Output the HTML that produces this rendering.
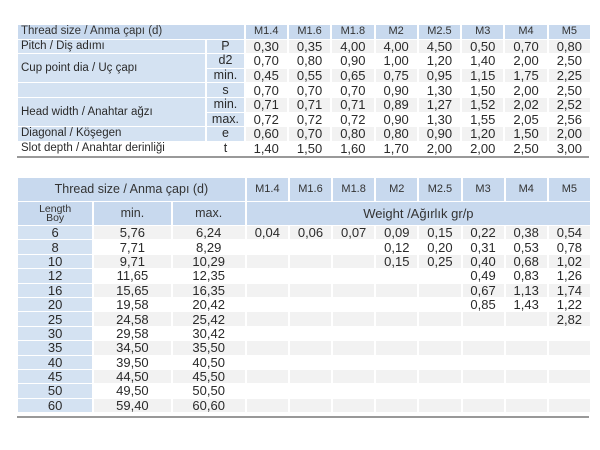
<!DOCTYPE html>
<html><head><meta charset="utf-8"><style>
body{margin:0;width:600px;height:450px;background:#fff;font-family:"Liberation Sans",sans-serif;color:#2a2a2a;position:relative;overflow:hidden}
table{position:absolute;left:16px;border-collapse:separate;border-spacing:2px 1px;table-layout:fixed}
td{padding:0;overflow:hidden;white-space:nowrap;line-height:13px}
.h{background:#c8d9ee;font-size:11px;text-align:center;color:#333}
td.b{background:#d4e2f2}
.g td.v{background:#f2f2f2}
.g td.b{background:#d4e2f2}
.v{text-align:center;font-size:13px}
.l{font-size:11.5px;padding-left:3px}
.s{text-align:center;font-size:12.5px}
#t1{top:24px;width:576px}
#t1 td{height:13.6px}
#t2{top:177px;width:576px}
#t2 td{height:13.4px}
.line{position:absolute;left:17px;width:572px;height:2px;background:#999}
</style></head><body>
<table id="t1">
<colgroup><col style="width:186px"><col style="width:36px"><col span="8" style="width:41px"></colgroup>
<tr><td class="h l" colspan="2" style="text-align:left">Thread size / Anma çapı (d)</td><td class="h">M1.4</td><td class="h">M1.6</td><td class="h">M1.8</td><td class="h">M2</td><td class="h">M2.5</td><td class="h">M3</td><td class="h">M4</td><td class="h">M5</td></tr>
<tr class="g"><td class="b l">Pitch / Diş adımı</td><td class="b s">P</td><td class="v">0,30</td><td class="v">0,35</td><td class="v">4,00</td><td class="v">4,00</td><td class="v">4,50</td><td class="v">0,50</td><td class="v">0,70</td><td class="v">0,80</td></tr>
<tr><td class="b l" rowspan="2">Cup point dia / Uç çapı</td><td class="b s">d2</td><td class="v">0,70</td><td class="v">0,80</td><td class="v">0,90</td><td class="v">1,00</td><td class="v">1,20</td><td class="v">1,40</td><td class="v">2,00</td><td class="v">2,50</td></tr>
<tr class="g"><td class="b s">min.</td><td class="v">0,45</td><td class="v">0,55</td><td class="v">0,65</td><td class="v">0,75</td><td class="v">0,95</td><td class="v">1,15</td><td class="v">1,75</td><td class="v">2,25</td></tr>
<tr><td class="b l"></td><td class="b s">s</td><td class="v">0,70</td><td class="v">0,70</td><td class="v">0,70</td><td class="v">0,90</td><td class="v">1,30</td><td class="v">1,50</td><td class="v">2,00</td><td class="v">2,50</td></tr>
<tr class="g"><td class="b l" rowspan="2">Head width / Anahtar ağzı</td><td class="b s">min.</td><td class="v">0,71</td><td class="v">0,71</td><td class="v">0,71</td><td class="v">0,89</td><td class="v">1,27</td><td class="v">1,52</td><td class="v">2,02</td><td class="v">2,52</td></tr>
<tr><td class="b s">max.</td><td class="v">0,72</td><td class="v">0,72</td><td class="v">0,72</td><td class="v">0,90</td><td class="v">1,30</td><td class="v">1,55</td><td class="v">2,05</td><td class="v">2,56</td></tr>
<tr class="g"><td class="b l">Diagonal / Köşegen</td><td class="b s">e</td><td class="v">0,60</td><td class="v">0,70</td><td class="v">0,80</td><td class="v">0,80</td><td class="v">0,90</td><td class="v">1,20</td><td class="v">1,50</td><td class="v">2,00</td></tr>
<tr><td class="l">Slot depth / Anahtar derinliği</td><td class="s">t</td><td class="v">1,40</td><td class="v">1,50</td><td class="v">1,60</td><td class="v">1,70</td><td class="v">2,00</td><td class="v">2,00</td><td class="v">2,50</td><td class="v">3,00</td></tr>
</table>
<div class="line" style="top:156px"></div>

<table id="t2">
<colgroup><col style="width:74px"><col style="width:76px"><col style="width:72px"><col span="8" style="width:41px"></colgroup>
<tr><td class="h" colspan="3" style="height:23px;font-size:12.5px">Thread size / Anma çapı (d)</td><td class="h">M1.4</td><td class="h">M1.6</td><td class="h">M1.8</td><td class="h">M2</td><td class="h">M2.5</td><td class="h">M3</td><td class="h">M4</td><td class="h">M5</td></tr>
<tr><td class="h" style="height:23px;font-size:10.5px;line-height:9px">Length<br>Boy</td><td class="h" style="font-size:12.5px">min.</td><td class="h" style="font-size:12.5px">max.</td><td class="h" colspan="8" style="font-size:13px">Weight /Ağırlık gr/p</td></tr>
<tr class="g"><td class="b v">6</td><td class="v">5,76</td><td class="v">6,24</td><td class="v">0,04</td><td class="v">0,06</td><td class="v">0,07</td><td class="v">0,09</td><td class="v">0,15</td><td class="v">0,22</td><td class="v">0,38</td><td class="v">0,54</td></tr>
<tr><td class="b v">8</td><td class="v">7,71</td><td class="v">8,29</td><td class="v"></td><td class="v"></td><td class="v"></td><td class="v">0,12</td><td class="v">0,20</td><td class="v">0,31</td><td class="v">0,53</td><td class="v">0,78</td></tr>
<tr class="g"><td class="b v">10</td><td class="v">9,71</td><td class="v">10,29</td><td class="v"></td><td class="v"></td><td class="v"></td><td class="v">0,15</td><td class="v">0,25</td><td class="v">0,40</td><td class="v">0,68</td><td class="v">1,02</td></tr>
<tr><td class="b v">12</td><td class="v">11,65</td><td class="v">12,35</td><td class="v"></td><td class="v"></td><td class="v"></td><td class="v"></td><td class="v"></td><td class="v">0,49</td><td class="v">0,83</td><td class="v">1,26</td></tr>
<tr class="g"><td class="b v">16</td><td class="v">15,65</td><td class="v">16,35</td><td class="v"></td><td class="v"></td><td class="v"></td><td class="v"></td><td class="v"></td><td class="v">0,67</td><td class="v">1,13</td><td class="v">1,74</td></tr>
<tr><td class="b v">20</td><td class="v">19,58</td><td class="v">20,42</td><td class="v"></td><td class="v"></td><td class="v"></td><td class="v"></td><td class="v"></td><td class="v">0,85</td><td class="v">1,43</td><td class="v">1,22</td></tr>
<tr class="g"><td class="b v">25</td><td class="v">24,58</td><td class="v">25,42</td><td class="v"></td><td class="v"></td><td class="v"></td><td class="v"></td><td class="v"></td><td class="v"></td><td class="v"></td><td class="v">2,82</td></tr>
<tr><td class="b v">30</td><td class="v">29,58</td><td class="v">30,42</td><td class="v"></td><td class="v"></td><td class="v"></td><td class="v"></td><td class="v"></td><td class="v"></td><td class="v"></td><td class="v"></td></tr>
<tr class="g"><td class="b v">35</td><td class="v">34,50</td><td class="v">35,50</td><td class="v"></td><td class="v"></td><td class="v"></td><td class="v"></td><td class="v"></td><td class="v"></td><td class="v"></td><td class="v"></td></tr>
<tr><td class="b v">40</td><td class="v">39,50</td><td class="v">40,50</td><td class="v"></td><td class="v"></td><td class="v"></td><td class="v"></td><td class="v"></td><td class="v"></td><td class="v"></td><td class="v"></td></tr>
<tr class="g"><td class="b v">45</td><td class="v">44,50</td><td class="v">45,50</td><td class="v"></td><td class="v"></td><td class="v"></td><td class="v"></td><td class="v"></td><td class="v"></td><td class="v"></td><td class="v"></td></tr>
<tr><td class="b v">50</td><td class="v">49,50</td><td class="v">50,50</td><td class="v"></td><td class="v"></td><td class="v"></td><td class="v"></td><td class="v"></td><td class="v"></td><td class="v"></td><td class="v"></td></tr>
<tr class="g"><td class="b v">60</td><td class="v">59,40</td><td class="v">60,60</td><td class="v"></td><td class="v"></td><td class="v"></td><td class="v"></td><td class="v"></td><td class="v"></td><td class="v"></td><td class="v"></td></tr>
</table>
<div class="line" style="top:416px"></div>
</body></html>
